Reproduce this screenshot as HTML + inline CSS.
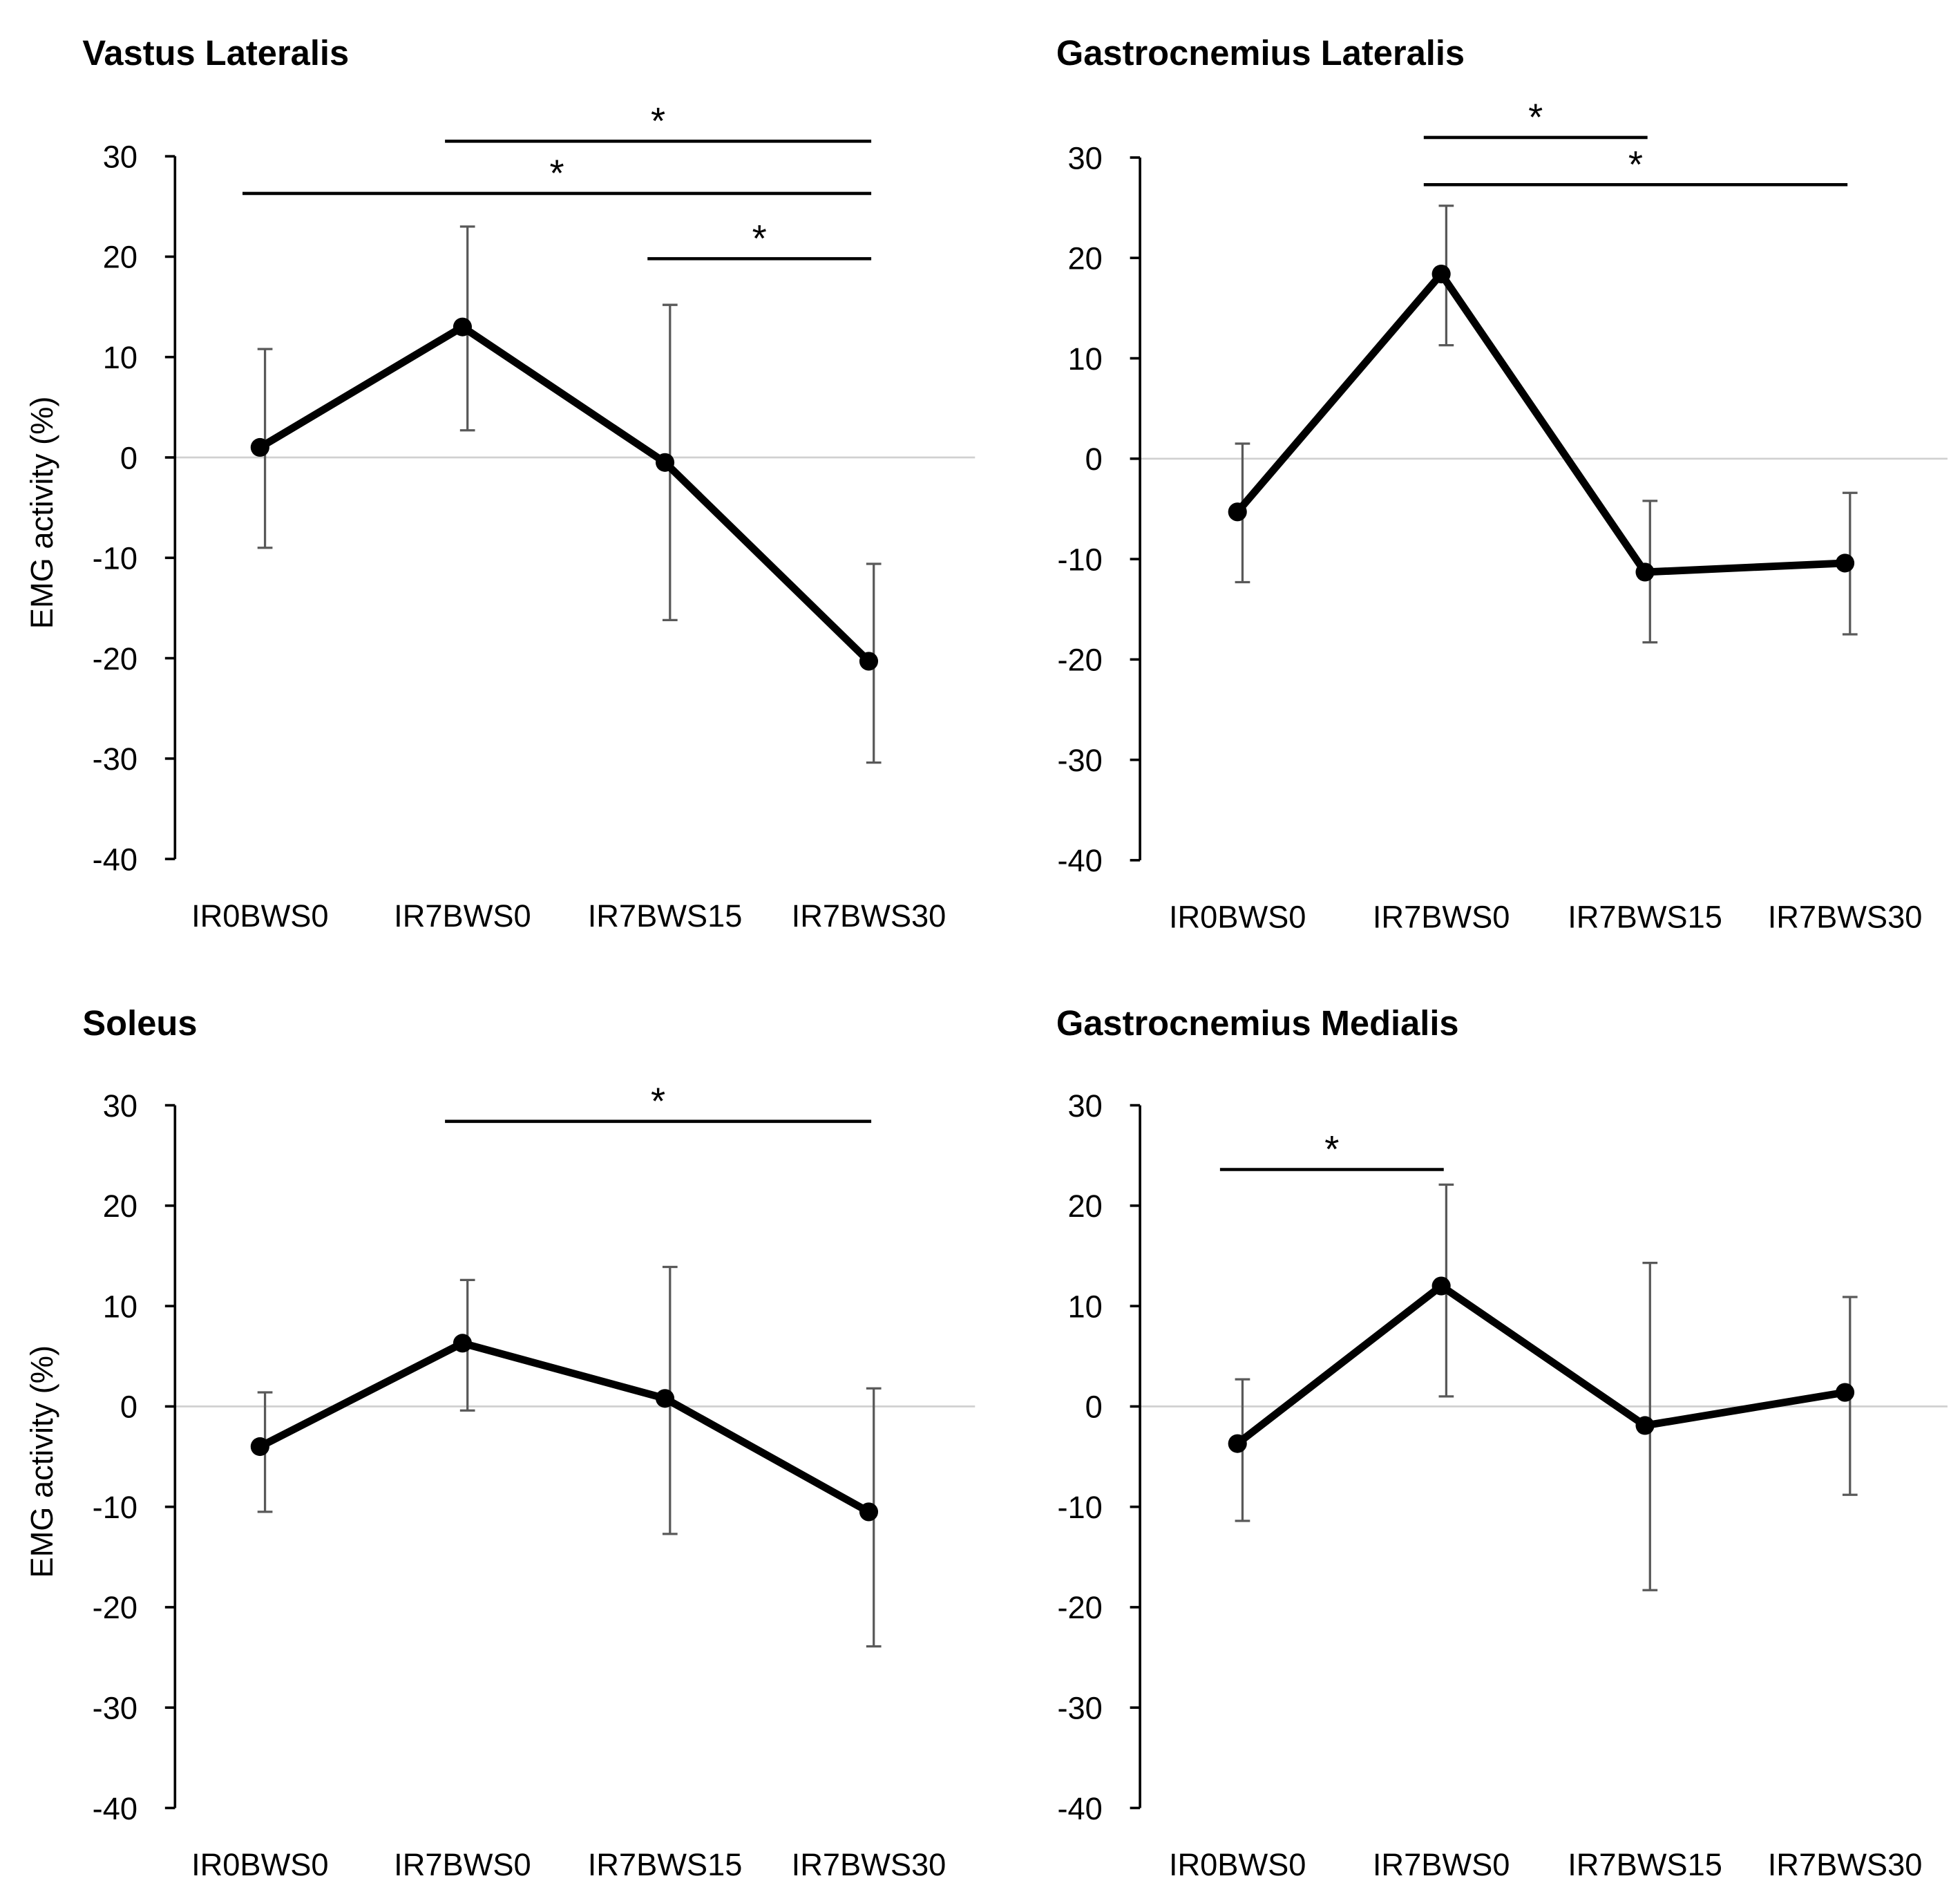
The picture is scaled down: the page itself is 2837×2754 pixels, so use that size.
<!DOCTYPE html>
<html><head><meta charset="utf-8"><style>
html,body{margin:0;padding:0;background:#fff}
svg{display:block}
text{font-family:"Liberation Sans","DejaVu Sans",sans-serif;fill:#000}
</style></head><body>
<svg id="fig" width="2837" height="2754" viewBox="0 0 1568 1522" preserveAspectRatio="none" xmlns="http://www.w3.org/2000/svg"></svg>
<script>
const categories = ["IR0BWS0","IR7BWS0","IR7BWS15","IR7BWS30"];
const yTicks = [30,20,10,0,-10,-20,-30,-40];
const vlMean = [1,13,-0.5,-20.3];
const vlUpper = [10.8,23,15.2,-10.6];
const vlLower = [-9,2.7,-16.2,-30.4];
const glMean = [-5.3,18.4,-11.3,-10.4];
const glUpper = [1.5,25.2,-4.2,-3.4];
const glLower = [-12.3,11.3,-18.3,-17.5];
const soMean = [-4,6.3,0.8,-10.5];
const soUpper = [1.4,12.6,13.9,1.8];
const soLower = [-10.5,-0.4,-12.7,-23.9];
const gmMean = [-3.7,12,-1.9,1.4];
const gmUpper = [2.7,22.1,14.3,10.9];
const gmLower = [-11.4,1,-18.3,-8.8];
// significance brackets: [fromIndex, toIndex, yValue]
const vlSig = [[1,3,31.5],[0,3,26.3],[2,3,19.8]];
const glSig = [[1,2,32],[1,3,27.3]];
const soSig = [[1,3,28.4]];
const gmSig = [[0,1,23.6]];

const NS="http://www.w3.org/2000/svg";
const svg=document.getElementById('fig');
function mk(tag,attrs,parent,txt){const e=document.createElementNS(NS,tag);for(const k in attrs)e.setAttribute(k,attrs[k]);if(txt!==undefined)e.textContent=txt;(parent||svg).appendChild(e);return e;}

const panels=[
 {key:'vastus-lateralis',title:'Vastus Lateralis',ax:140,top:125,ty:52,xs:[208,370,532,695],right:780,mean:vlMean,up:vlUpper,lo:vlLower,sig:vlSig,ylab:true,tx:66},
 {key:'gastrocnemius-lateralis',title:'Gastrocnemius Lateralis',ax:912,top:126,ty:52,xs:[990,1153,1316,1476],right:1558,mean:glMean,up:glUpper,lo:glLower,sig:glSig,ylab:false,tx:845},
 {key:'soleus',title:'Soleus',ax:140,top:884,ty:828,xs:[208,370,532,695],right:780,mean:soMean,up:soUpper,lo:soLower,sig:soSig,ylab:true,tx:66},
 {key:'gastrocnemius-medialis',title:'Gastrocnemius Medialis',ax:912,top:884,ty:828,xs:[990,1153,1316,1476],right:1558,mean:gmMean,up:gmUpper,lo:gmLower,sig:gmSig,ylab:false,tx:845}
];
panels.forEach(p=>{
 const g=mk('g',{});
 
 
 const y=v=>p.top+(30-v)*562/70;
 const t=mk('text',{x:p.tx,y:p.ty,'font-size':28,'font-weight':'bold'},g,p.title);
 
 
 const zl=mk('line',{x1:p.ax-8,x2:p.right,y1:y(0),y2:y(0),stroke:'#d0d0d0','stroke-width':1.5},g);
 
 
 const axl=mk('line',{x1:p.ax,x2:p.ax,y1:y(30),y2:y(-40),stroke:'#000','stroke-width':2},g);
 
 
 yTicks.forEach(v=>{
  const tk=mk('line',{x1:p.ax,x2:p.ax-8,y1:y(v),y2:y(v),stroke:'#000','stroke-width':2},g);
  
  
  const tl=mk('text',{x:p.ax-30,y:y(v)+9,'font-size':25,'text-anchor':'end'},g,String(v));
  
  
 });
 categories.forEach((c,i)=>{
  const xl=mk('text',{x:p.xs[i],y:y(-40)+54,'font-size':25,'text-anchor':'middle'},g,c);
  
  
 });
 if(p.ylab){
  const yt=mk('text',{x:0,y:0,'font-size':25,'text-anchor':'middle',transform:`translate(42,${(y(30)+y(-40))/2+4}) rotate(-90)`},g,'EMG activity (%)');
  
  
 }
 p.mean.forEach((m,i)=>{
  const ex=p.xs[i]+4;
  const eb=mk('path',{d:`M${ex},${y(p.up[i])}V${y(p.lo[i])}M${ex-6},${y(p.up[i])}H${ex+6}M${ex-6},${y(p.lo[i])}H${ex+6}`,stroke:'#595959','stroke-width':1.8,fill:'none'},g);
  
  
 });
 const pts=p.mean.map((m,i)=>p.xs[i]+','+y(m)).join(' ');
 const ln=mk('polyline',{points:pts,fill:'none',stroke:'#000','stroke-width':6,'stroke-linejoin':'round'},g);
 
 
 p.mean.forEach((m,i)=>{
  const c=mk('circle',{cx:p.xs[i],cy:y(m),r:7.5,fill:'#000'},g);
  
  
 });
 p.sig.forEach(s=>{
  const x1=p.xs[s[0]]-14, x2=p.xs[s[1]]+2;
  const sl=mk('line',{x1:x1,x2:x2,y1:y(s[2]),y2:y(s[2]),stroke:'#000','stroke-width':2.5},g);
  
  
  const st=mk('text',{x:(x1+x2)/2,y:y(s[2])-6,'font-size':30,'text-anchor':'middle'},g,'*');
  
  
 });
});
</script>
</body></html>
